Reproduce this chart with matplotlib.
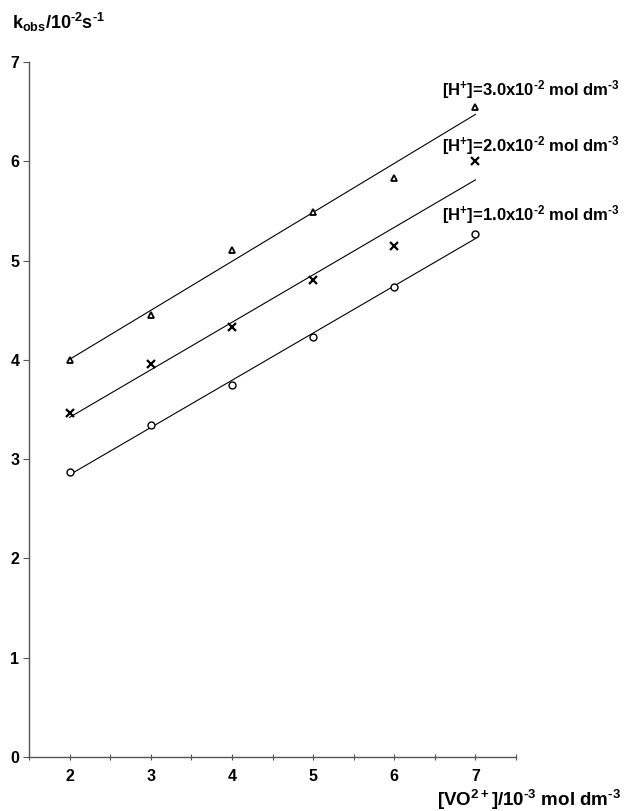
import numpy as np
import matplotlib
matplotlib.use("Agg")
import matplotlib.pyplot as plt

plt.rcParams['font.family'] = ['Liberation Sans', 'DejaVu Sans']
plt.rcParams['mathtext.default'] = 'regular'

# concentracao de VO2+ (10^-3 mol dm^-3)
vo2 = [2, 3, 4, 5, 6, 7]

# k_obs (10^-2 s^-1) para cada [H+]
k_h1 = [2.87, 3.34, 3.75, 4.23, 4.73, 5.27]
k_h2 = [3.46, 3.96, 4.33, 4.80, 5.15, 6.00]
k_h3 = [4.00, 4.45, 5.11, 5.49, 5.83, 6.55]

h = '\u2010'  # hifen curto nos expoentes
rotulos = [r'[H$^{+}$]=1.0x10$^{%s2}$ mol dm$^{%s3}$' % (h, h),
           r'[H$^{+}$]=2.0x10$^{%s2}$ mol dm$^{%s3}$' % (h, h),
           r'[H$^{+}$]=3.0x10$^{%s2}$ mol dm$^{%s3}$' % (h, h)]

fig = plt.figure(figsize=(6.28, 8.11), dpi=100)
ax = fig.add_axes([0.0462, 0.0666, 0.7755, 0.857])

x = np.array(vo2)
series = [(k_h1, 'o', 5.0, 1.0), (k_h2, 'x', 5.5, 1.6), (k_h3, '^', 5.0, 1.3)]
for (k, m, ms, mew), txt in zip(series, rotulos):
    k = np.array(k)
    a, b = np.polyfit(x, k, 1)
    ax.plot(x, a * x + b, color='black', lw=0.8)
    ax.plot(x, k, linestyle='none', marker=m, ms=ms, mew=mew,
            mfc='white', mec='black', color='black')

# rotulos das retas
ax.text(6.59, 5.46, rotulos[0], fontsize=12, fontweight='bold', va='center', ha='left')
ax.text(6.59, 6.16, rotulos[1], fontsize=12, fontweight='bold', va='center', ha='left')
ax.text(6.59, 6.72, rotulos[2], fontsize=12, fontweight='bold', va='center', ha='left')

ax.set_xlim(1.5, 7.5)
ax.set_ylim(0, 7)
ax.set_xticks([2, 3, 4, 5, 6, 7])
ax.set_xticks(np.arange(1.5, 7.6, 0.5), minor=True)
ax.set_yticks(range(0, 8))

for s in ['top', 'right']:
    ax.spines[s].set_visible(False)
for s in ['left', 'bottom']:
    ax.spines[s].set_color('#555555')
    ax.spines[s].set_linewidth(1.0)

ax.tick_params(axis='x', which='both', direction='inout', length=4,
               width=0.8, color='#555555', pad=7)
ax.tick_params(axis='y', which='major', direction='out', length=4,
               width=0.8, color='#555555', pad=3)
for lab in ax.get_xticklabels() + ax.get_yticklabels():
    lab.set_fontweight('bold')
    lab.set_fontsize(11.5)

fig.text(12 / 628, 1 - 22 / 811, r'k$_{obs}$/10$^{%s2}$s$^{%s1}$' % (h, h),
         fontsize=13, fontweight='bold', ha='left', va='center')
fig.text(621 / 628, 1 - 800 / 811, r'[VO$^{2+}$]/10$^{%s3}$ mol dm$^{%s3}$' % (h, h),
         fontsize=13.5, fontweight='bold', ha='right', va='center')

fig.savefig('out.png', dpi=100)
